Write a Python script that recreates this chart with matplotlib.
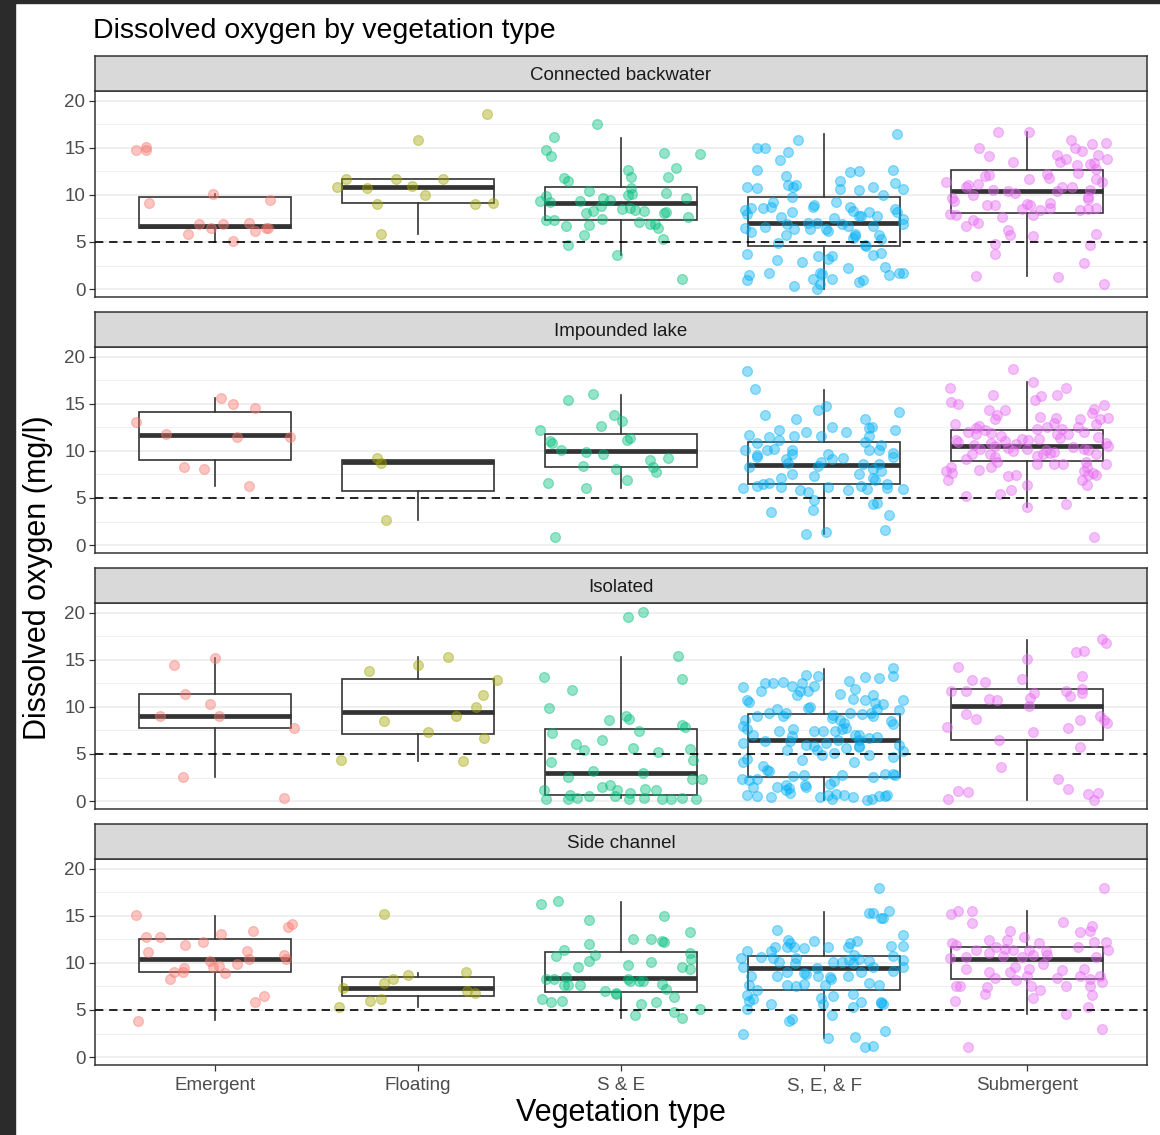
import numpy as np
import matplotlib.pyplot as plt
from matplotlib.patches import Rectangle

plt.rcParams['font.family'] = ['Liberation Sans', 'DejaVu Sans']

veg_types = ['Emergent', 'Floating', 'S & E', 'S, E, & F', 'Submergent']
habitats = ['Connected backwater', 'Impounded lake', 'Isolated', 'Side channel']
veg_colors = ['#F8766D', '#A3A500', '#00BF7D', '#00B0F6', '#E76BF3']
do_threshold = 5

# box stats per habitat, one value per vegetation type
cb_lo = [5.0, 5.8, 3.6, 0.05, 1.4]
cb_q1 = [6.5, 9.1, 7.3, 4.55, 8.1]
cb_med = [6.75, 10.8, 9.1, 7.05, 10.4]
cb_q3 = [9.8, 11.7, 10.85, 9.8, 12.65]
cb_hi = [10.07, 11.7, 16.1, 16.45, 16.7]

il_lo = [6.25, 2.7, 6.05, 1.2, 4.05]
il_q1 = [9.0, 5.75, 8.25, 6.45, 8.9]
il_med = [11.65, 8.8, 10.0, 8.55, 10.55]
il_q3 = [14.15, 9.0, 11.85, 10.95, 12.25]
il_hi = [15.65, 9.0, 16.0, 16.5, 17.3]

iso_lo = [2.6, 4.3, 0.3, 0.15, 0.1]
iso_q1 = [7.75, 7.1, 0.6, 2.6, 6.5]
iso_med = [9.05, 9.45, 3.0, 6.5, 10.15]
iso_q3 = [11.4, 13.0, 7.65, 9.25, 11.9]
iso_hi = [15.2, 15.3, 15.3, 14.05, 17.15]

sc_lo = [3.95, 5.35, 4.2, 2.05, 4.55]
sc_q1 = [9.05, 6.5, 6.95, 7.1, 8.3]
sc_med = [10.4, 7.35, 8.45, 9.5, 10.4]
sc_q3 = [12.6, 8.5, 11.2, 10.75, 11.65]
sc_hi = [15.05, 8.9, 16.5, 15.45, 15.5]

# jittered observations: (x offset from category, dissolved oxygen)
cb_em = [(-0.39, 14.75), (-0.34, 15.1), (-0.34, 14.75), (-0.325, 9.1), (-0.01, 10.07),
         (0.27, 9.5), (-0.08, 6.9), (-0.02, 6.5), (0.04, 6.9), (0.17, 7.05), (0.2, 6.2),
         (0.25, 6.5), (0.26, 6.5), (-0.13, 5.9), (0.09, 5.1)]
cb_fl = [(-0.4, 10.8), (-0.355, 11.7), (-0.25, 10.7), (-0.2, 9.0), (-0.18, 5.8),
         (-0.11, 11.7), (-0.03, 10.95), (0.0, 15.85), (0.035, 10.0), (0.125, 11.7),
         (0.28, 9.0), (0.37, 9.2), (0.34, 18.6)]
cb_se = [(-0.12, 17.6), (-0.33, 16.2), (-0.37, 14.75), (-0.345, 14.15), (-0.28, 11.8),
         (-0.26, 11.5), (-0.4, 9.35), (-0.37, 9.9), (-0.35, 9.25), (-0.37, 7.3),
         (-0.33, 7.3), (-0.27, 6.7), (-0.26, 4.7), (-0.18, 5.75), (-0.16, 6.8),
         (-0.2, 9.35), (-0.157, 10.4), (-0.17, 8.1), (-0.14, 8.3), (-0.095, 7.4),
         (-0.1, 8.8), (-0.087, 9.7), (-0.054, 9.5), (-0.018, 3.6), (0.006, 8.5),
         (0.036, 12.65), (0.05, 11.95), (0.048, 10.7), (0.033, 10.05), (0.056, 10.15),
         (0.044, 8.65), (0.069, 8.4), (0.113, 8.35), (0.09, 7.15), (0.143, 6.9),
         (0.167, 6.9), (0.18, 6.5), (0.205, 5.3), (0.21, 8.1), (0.22, 8.2), (0.22, 10.2),
         (0.23, 11.9), (0.27, 12.9), (0.21, 14.45), (0.39, 14.35), (0.32, 9.65),
         (0.33, 7.7), (0.30, 1.1)]
cb_sef = [(-0.33, 15.05), (-0.29, 14.95), (-0.127, 15.8), (-0.18, 14.6), (-0.217, 13.7),
          (-0.33, 12.65), (-0.19, 12.0), (-0.18, 11.05), (-0.154, 10.8), (-0.138, 11.05),
          (-0.16, 9.8), (-0.38, 10.85), (-0.33, 10.7), (-0.25, 9.25), (-0.26, 8.7),
          (-0.30, 8.65), (-0.36, 8.6), (-0.39, 8.4), (-0.38, 7.95), (-0.39, 6.5),
          (-0.36, 6.1), (-0.29, 6.6), (-0.21, 7.65), (-0.16, 8.2), (-0.185, 6.9),
          (-0.15, 6.35), (-0.19, 5.75), (-0.225, 4.9), (-0.05, 8.95), (-0.055, 8.7),
          (-0.08, 7.05), (-0.07, 6.4), (-0.036, 7.05), (0.01, 6.35), (0.02, 6.2),
          (0.05, 7.5), (0.06, 9.3), (0.08, 11.5), (0.08, 10.65), (0.13, 12.45),
          (0.17, 12.5), (0.17, 10.55), (0.13, 8.7), (0.14, 8.3), (0.09, 6.95),
          (0.12, 6.7), (0.15, 5.8), (0.14, 5.4), (0.17, 7.75), (0.18, 7.75),
          (0.22, 8.2), (0.26, 7.75), (0.24, 10.85), (0.29, 10.0), (0.24, 6.7),
          (0.27, 5.75), (0.28, 5.3), (0.2, 4.7), (0.24, 3.6), (0.28, 3.85),
          (0.30, 2.35), (0.32, 1.5), (0.17, 0.7), (0.19, 1.0), (0.35, 8.5),
          (0.36, 8.2), (0.35, 11.3), (0.34, 12.65), (0.36, 16.45), (0.37, 1.7),
          (-0.03, 3.5), (0.04, 3.5), (0.02, 3.15), (-0.11, 2.9), (-0.23, 3.05),
          (-0.38, 3.7), (-0.37, 1.45), (-0.38, 1.0), (-0.27, 1.7), (-0.15, 0.3),
          (-0.055, 1.1), (-0.02, 1.7), (-0.01, 1.55), (-0.035, 0.05), (-0.02, 0.55),
          (0.04, 1.1), (0.117, 2.25), (0.207, 4.55), (0.153, 5.6), (0.39, 10.6),
          (0.39, 7.4), (0.39, 6.95), (0.39, 1.7)]
cb_sub = [(-0.146, 16.65), (0.007, 16.75), (-0.235, 14.95), (-0.186, 14.1), (-0.07, 13.5),
          (0.215, 15.9), (0.236, 14.95), (0.27, 14.7), (0.32, 15.4), (0.39, 15.5),
          (0.35, 14.3), (0.395, 13.8), (0.146, 14.25), (0.16, 13.55), (0.19, 13.8),
          (0.245, 13.2), (0.31, 13.25), (0.33, 13.45), (0.34, 12.75), (0.25, 12.35),
          (0.097, 12.2), (0.105, 11.8), (0.01, 11.75), (-0.19, 12.15), (-0.21, 12.0),
          (-0.4, 11.4), (-0.29, 11.1), (-0.3, 10.8), (-0.24, 11.2), (-0.265, 10.0),
          (-0.17, 10.5), (-0.095, 10.4), (-0.06, 10.2), (-0.37, 9.65), (-0.36, 9.35),
          (-0.38, 8.0), (-0.35, 7.85), (-0.2, 8.95), (-0.16, 8.95), (-0.125, 7.65),
          (-0.265, 7.3), (-0.3, 6.7), (-0.24, 7.0), (-0.095, 6.25), (-0.087, 5.75),
          (-0.158, 4.8), (-0.158, 3.75), (-0.25, 1.4), (0.0, 9.0), (0.015, 8.95),
          (-0.026, 8.5), (0.03, 7.85), (0.064, 8.4), (0.11, 9.1), (0.11, 8.65),
          (0.03, 5.65), (0.146, 10.4), (0.17, 10.8), (0.22, 10.8), (0.31, 10.5),
          (0.30, 9.8), (0.30, 9.55), (0.26, 8.4), (0.30, 8.55), (0.34, 8.65),
          (0.37, 11.4), (0.34, 11.65), (0.34, 5.8), (0.31, 4.7), (0.28, 2.8),
          (0.15, 1.3), (0.38, 0.55)]

il_em = [(0.03, 15.65), (0.09, 15.0), (0.2, 14.6), (-0.39, 13.1), (-0.24, 11.85),
         (0.11, 11.5), (0.37, 11.5), (-0.15, 8.3), (-0.055, 8.05), (0.167, 6.25)]
il_fl = [(-0.2, 9.25), (-0.18, 8.75), (-0.155, 2.7)]
il_se = [(-0.14, 16.1), (-0.26, 15.4), (-0.035, 13.8), (0.006, 13.2), (-0.1, 12.65),
         (-0.4, 12.25), (-0.35, 11.05), (-0.34, 10.85), (-0.295, 10.1), (-0.17, 9.9),
         (-0.087, 9.7), (0.03, 11.2), (0.044, 11.4), (-0.186, 8.4), (-0.025, 8.1),
         (0.143, 9.0), (0.156, 8.35), (0.17, 7.75), (0.23, 9.25), (0.03, 6.95),
         (-0.36, 6.6), (-0.17, 6.1), (-0.325, 0.9)]
il_sef = [(-0.38, 18.5), (-0.34, 16.55), (-0.29, 13.8), (-0.14, 13.35), (-0.03, 14.4),
          (0.01, 14.75), (0.04, 12.6), (-0.09, 12.0), (-0.015, 11.55), (-0.22, 12.25),
          (-0.15, 11.55), (-0.27, 11.5), (-0.22, 11.2), (-0.37, 11.65), (-0.33, 10.85),
          (-0.39, 10.1), (-0.28, 10.15), (-0.245, 10.2), (-0.33, 9.55), (-0.33, 9.35),
          (-0.37, 8.35), (-0.16, 10.15), (-0.16, 9.65), (-0.19, 9.2), (-0.18, 8.7),
          (-0.16, 7.6), (-0.21, 7.15), (-0.21, 6.2), (-0.27, 6.6), (-0.3, 6.5),
          (-0.33, 6.25), (-0.4, 6.1), (-0.12, 5.8), (-0.08, 5.65), (-0.05, 4.8),
          (-0.055, 3.7), (-0.26, 3.5), (-0.09, 1.2), (0.01, 1.4), (-0.05, 7.3),
          (-0.03, 8.4), (-0.015, 8.85), (0.02, 9.65), (0.04, 9.2), (0.02, 6.2),
          (0.095, 9.25), (0.11, 12.0), (0.12, 5.85), (0.18, 6.25), (0.21, 6.0),
          (0.17, 7.6), (0.19, 8.6), (0.2, 13.45), (0.22, 12.45), (0.235, 12.6),
          (0.22, 11.55), (0.2, 10.95), (0.22, 10.15), (0.27, 10.1), (0.28, 10.6),
          (0.24, 8.1), (0.24, 7.15), (0.25, 6.95), (0.28, 7.9), (0.27, 8.6),
          (0.31, 6.45), (0.31, 6.1), (0.24, 4.4), (0.26, 4.45), (0.32, 3.15),
          (0.30, 1.55), (0.34, 9.8), (0.34, 9.35), (0.37, 14.1), (0.35, 12.2),
          (0.39, 6.0)]
il_sub = [(-0.07, 18.75), (0.03, 17.35), (-0.38, 16.65), (0.19, 16.75), (-0.17, 15.95),
          (0.07, 15.8), (0.04, 15.45), (0.146, 15.95), (-0.375, 15.2), (-0.34, 14.95),
          (-0.19, 14.4), (-0.11, 14.35), (-0.15, 13.8), (-0.16, 13.35), (0.38, 14.85),
          (0.33, 14.5), (0.32, 14.05), (0.36, 13.45), (0.40, 13.55), (0.26, 13.35),
          (0.064, 13.6), (0.14, 13.55), (0.13, 13.0), (-0.355, 12.85), (-0.235, 12.65),
          (-0.25, 12.45), (-0.21, 12.2), (-0.29, 12.0), (-0.25, 11.8), (-0.18, 11.9),
          (0.048, 12.35), (0.097, 12.55), (0.17, 12.35), (0.25, 12.6), (0.28, 12.0),
          (0.34, 12.9), (0.35, 11.5), (0.39, 10.8), (0.4, 10.5), (0.146, 11.85),
          (0.16, 11.4), (0.2, 11.8), (-0.35, 11.2), (-0.34, 10.95), (-0.13, 11.55),
          (-0.11, 11.1), (-0.026, 11.3), (0.006, 11.2), (0.06, 11.3), (-0.26, 10.6),
          (-0.23, 10.25), (-0.18, 10.8), (-0.158, 10.5), (-0.092, 10.35), (-0.054, 10.7),
          (-0.07, 10.0), (0.0, 10.25), (0.095, 10.1), (0.11, 9.8), (0.13, 9.9),
          (0.225, 10.45), (0.28, 10.25), (0.30, 10.1), (0.34, 9.7), (-0.3, 9.2),
          (-0.27, 9.65), (-0.185, 9.65), (-0.16, 9.35), (-0.15, 8.8), (0.05, 9.45),
          (0.05, 8.6), (0.08, 9.7), (0.13, 8.6), (0.176, 8.6), (0.29, 8.85),
          (0.295, 8.3), (0.39, 8.6), (-0.40, 7.85), (-0.375, 8.3), (-0.37, 7.65),
          (-0.39, 6.95), (-0.235, 7.95), (-0.18, 8.35), (-0.095, 7.3), (-0.054, 7.4),
          (0.28, 7.85), (0.27, 6.95), (0.30, 7.4), (0.325, 7.65), (0.34, 7.4),
          (0.295, 6.35), (0.0, 6.35), (-0.08, 5.8), (-0.135, 5.4), (-0.3, 5.2),
          (0.19, 4.4), (0.0, 4.05), (0.33, 0.85)]

iso_em = [(0.0, 15.2), (-0.2, 14.5), (-0.145, 11.4), (-0.025, 10.35), (-0.27, 9.0),
          (0.02, 9.05), (0.39, 7.75), (-0.155, 2.6), (0.34, 0.3)]
iso_fl = [(-0.24, 13.8), (0.0, 14.5), (0.146, 15.3), (0.39, 12.85), (0.32, 11.3),
          (0.285, 10.0), (0.19, 9.0), (-0.167, 8.5), (0.05, 7.35), (0.325, 6.7),
          (-0.38, 4.4), (0.22, 4.3)]
iso_se = [(0.036, 19.55), (0.107, 20.05), (0.28, 15.45), (0.3, 13.0), (-0.38, 13.2),
          (-0.24, 11.85), (-0.355, 9.9), (-0.058, 8.65), (0.025, 9.0), (0.04, 8.7),
          (0.3, 8.1), (0.315, 7.85), (-0.34, 7.2), (0.09, 7.45), (-0.095, 6.5),
          (-0.22, 6.05), (-0.18, 5.45), (0.06, 5.6), (0.18, 5.2), (0.34, 5.55),
          (0.355, 4.4), (-0.345, 4.15), (-0.136, 3.15), (0.11, 3.0), (-0.26, 2.6),
          (0.35, 2.35), (0.4, 2.35), (-0.054, 1.7), (-0.095, 1.45), (-0.02, 1.15),
          (0.12, 1.3), (0.17, 1.15), (-0.38, 1.15), (-0.37, 0.2), (-0.25, 0.65),
          (-0.215, 0.3), (-0.156, 0.5), (-0.03, 0.55), (0.044, 0.85), (0.04, 0.2),
          (0.115, 0.3), (0.2, 0.2), (0.245, 0.2), (0.3, 0.3), (0.37, 0.2), (-0.26, 0.2)]
iso_sef = [(-0.09, 13.45), (-0.03, 13.25), (0.34, 14.15), (0.34, 13.25), (0.2, 13.2),
           (0.27, 13.1), (0.125, 12.75), (-0.2, 12.65), (-0.25, 12.5), (-0.29, 12.55),
           (-0.16, 12.25), (-0.11, 12.5), (-0.05, 12.25), (-0.4, 12.1), (-0.31, 11.75),
           (-0.12, 11.65), (-0.08, 11.75), (-0.135, 11.3), (0.15, 11.9), (0.08, 11.4),
           (0.24, 11.3), (0.14, 10.9), (0.2, 10.75), (0.25, 10.4), (0.29, 10.3),
           (-0.38, 10.75), (-0.37, 10.5), (-0.08, 9.9), (-0.07, 10.05), (-0.23, 9.8),
           (-0.27, 9.35), (-0.33, 9.0), (-0.39, 8.65), (-0.4, 7.95), (-0.2, 9.0),
           (-0.19, 9.35), (0.04, 8.85), (0.13, 9.35), (0.045, 9.2), (0.08, 8.6),
           (0.1, 8.3), (0.185, 9.3), (0.23, 9.35), (0.26, 9.8), (0.33, 8.5),
           (0.34, 8.2), (0.24, 9.0), (-0.38, 7.65), (-0.35, 7.05), (-0.22, 7.4),
           (-0.155, 7.65), (-0.16, 6.95), (-0.05, 7.45), (-0.006, 7.4), (0.054, 7.4),
           (0.087, 7.65), (0.11, 7.75), (0.15, 7.05), (0.17, 7.05), (0.22, 6.7),
           (0.17, 6.5), (-0.4, 6.15), (-0.29, 6.35), (-0.17, 6.35), (-0.185, 5.45),
           (-0.09, 6.0), (-0.05, 5.8), (-0.036, 5.4), (-0.01, 4.9), (0.01, 6.15),
           (0.05, 5.15), (0.07, 6.5), (0.11, 5.65), (0.17, 5.9), (0.17, 5.7),
           (0.22, 4.9), (0.26, 6.8), (-0.4, 4.2), (-0.38, 4.45), (-0.3, 3.7),
           (-0.28, 3.35), (-0.27, 3.15), (-0.11, 4.4), (0.145, 4.2), (0.087, 2.8),
           (-0.1, 2.8), (-0.155, 2.7), (0.24, 2.6), (0.3, 2.9), (0.34, 2.9),
           (-0.405, 2.35), (-0.37, 2.25), (-0.33, 2.3), (-0.19, 1.7), (-0.175, 1.35),
           (-0.23, 1.45), (-0.094, 1.7), (-0.09, 1.5), (-0.35, 1.5), (0.03, 1.8),
           (0.05, 2.1), (-0.17, 0.85), (-0.19, 1.15), (-0.38, 0.65), (-0.33, 0.55),
           (-0.26, 0.4), (-0.02, 0.4), (0.02, 0.65), (0.04, 0.2), (0.06, 0.75),
           (0.1, 0.65), (0.14, 0.4), (0.21, 0.15), (0.235, 0.2), (0.27, 0.55),
           (0.31, 0.65), (0.39, 10.7), (0.37, 9.65), (0.37, 6.0), (0.39, 5.3),
           (0.34, 4.7), (0.35, 2.8), (0.3, 0.55)]
iso_sub = [(0.37, 17.2), (0.39, 16.8), (0.24, 15.8), (0.28, 16.0), (0.0, 15.1),
           (-0.34, 14.2), (0.27, 13.3), (-0.27, 12.85), (-0.21, 12.7), (-0.026, 12.95),
           (-0.375, 11.65), (-0.3, 11.75), (0.19, 11.75), (0.21, 11.2), (0.27, 11.9),
           (0.27, 11.5), (0.035, 11.45), (0.015, 11.0), (-0.19, 10.85), (-0.15, 10.7),
           (0.007, 10.15), (-0.3, 9.3), (-0.25, 8.75), (0.26, 8.6), (0.36, 9.0),
           (0.38, 8.65), (0.395, 8.35), (-0.395, 7.85), (0.2, 7.8), (0.03, 7.3),
           (-0.14, 6.5), (0.26, 5.75), (-0.13, 3.6), (0.15, 2.35), (0.2, 1.3),
           (-0.39, 0.25), (-0.34, 1.1), (-0.29, 0.95), (0.3, 0.75), (0.35, 0.9),
           (0.33, 0.1)]

sc_em = [(-0.39, 15.1), (-0.34, 12.8), (-0.27, 12.8), (-0.33, 11.15), (-0.145, 11.9),
         (-0.058, 12.2), (0.03, 13.05), (0.19, 13.35), (0.36, 13.8), (0.38, 14.1),
         (0.16, 11.3), (0.17, 10.4), (0.34, 10.85), (0.35, 10.4), (-0.025, 10.25),
         (-0.008, 9.55), (0.02, 9.7), (0.11, 9.85), (0.05, 8.9), (-0.15, 9.45),
         (-0.155, 9.05), (-0.2, 9.0), (-0.22, 8.3), (0.24, 6.5), (0.2, 5.8),
         (-0.38, 3.85)]
sc_fl = [(-0.167, 15.2), (-0.05, 8.7), (-0.125, 8.3), (-0.167, 7.9), (-0.37, 7.35),
         (0.235, 9.0), (0.24, 7.0), (0.28, 6.85), (-0.235, 5.95), (-0.18, 6.15),
         (-0.39, 5.35)]
sc_se = [(-0.395, 16.25), (-0.31, 16.6), (-0.157, 14.55), (0.21, 15.0), (0.34, 13.3),
         (0.06, 12.55), (0.15, 12.6), (0.2, 12.35), (0.21, 12.25), (-0.16, 12.0),
         (-0.28, 11.4), (-0.32, 10.75), (-0.128, 10.9), (-0.156, 10.2), (-0.21, 9.6),
         (0.033, 9.75), (0.15, 10.1), (0.34, 11.05), (0.345, 10.4), (0.3, 9.55),
         (0.34, 9.35), (-0.37, 8.3), (-0.33, 8.3), (-0.27, 8.55), (-0.28, 7.65),
         (-0.26, 7.65), (-0.2, 7.65), (0.036, 8.3), (0.044, 8.1), (0.09, 8.1),
         (0.11, 8.1), (0.2, 7.75), (0.22, 7.2), (-0.08, 7.0), (-0.025, 6.85),
         (-0.025, 6.65), (0.26, 6.4), (-0.39, 6.15), (-0.345, 5.9), (-0.29, 6.0),
         (0.1, 5.65), (0.17, 5.9), (0.39, 5.1), (0.26, 4.75), (0.3, 4.2), (0.07, 4.45)]
sc_sef = [(0.27, 18.0), (0.22, 15.3), (0.24, 15.3), (0.28, 14.8), (0.32, 15.5),
          (-0.23, 13.5), (-0.18, 12.45), (-0.05, 12.35), (-0.17, 12.15), (-0.24, 11.65),
          (-0.185, 11.65), (-0.15, 11.65), (-0.1, 11.55), (0.02, 11.7), (0.16, 12.35),
          (0.13, 12.1), (0.12, 11.65), (0.33, 11.8), (-0.38, 11.3), (-0.26, 11.3),
          (-0.31, 10.65), (-0.41, 10.5), (-0.25, 10.5), (-0.22, 10.15), (-0.14, 10.5),
          (-0.145, 10.05), (0.046, 10.15), (0.09, 10.15), (0.125, 10.3), (0.145, 10.85),
          (0.17, 10.4), (0.22, 10.25), (0.34, 10.75), (0.14, 9.95), (-0.4, 9.55),
          (-0.36, 8.6), (-0.23, 8.6), (-0.185, 9.05), (-0.1, 8.95), (-0.09, 8.85),
          (-0.033, 9.45), (-0.03, 8.6), (0.03, 8.55), (0.033, 8.3), (0.12, 8.6),
          (0.18, 9.0), (0.24, 9.6), (0.34, 9.15), (-0.37, 7.65), (-0.33, 7.1),
          (-0.185, 7.65), (-0.14, 7.55), (-0.1, 7.75), (0.005, 7.65), (0.22, 7.9),
          (0.27, 7.65), (-0.38, 6.6), (-0.37, 6.0), (-0.35, 6.15), (-0.38, 5.1),
          (-0.26, 5.6), (-0.015, 6.25), (-0.006, 5.65), (0.046, 6.5), (0.14, 6.7),
          (0.18, 5.8), (0.14, 5.35), (0.28, 5.9), (0.28, 5.7), (0.04, 4.45),
          (-0.175, 3.85), (-0.16, 4.0), (-0.4, 2.45), (0.02, 2.05), (0.15, 2.1),
          (0.3, 2.8), (0.2, 1.1), (0.24, 1.15), (0.29, 14.75), (0.39, 13.0),
          (0.39, 11.85), (0.39, 10.3), (0.39, 9.55), (0.29, 5.65)]
sc_sub = [(0.38, 17.95), (-0.375, 15.2), (-0.34, 15.5), (-0.27, 15.55), (-0.27, 14.3),
          (0.175, 14.4), (0.32, 13.95), (0.31, 13.45), (0.26, 13.25), (-0.087, 13.35),
          (-0.018, 12.8), (-0.1, 12.4), (-0.19, 12.45), (0.06, 12.1), (0.33, 12.25),
          (0.39, 12.25), (-0.37, 12.1), (-0.35, 11.9), (0.25, 11.65), (-0.154, 11.65),
          (-0.11, 11.45), (-0.07, 11.4), (0.007, 11.4), (0.094, 11.3), (0.097, 10.85),
          (-0.25, 11.4), (-0.19, 11.1), (-0.3, 10.65), (-0.38, 10.5), (-0.12, 10.75),
          (-0.026, 10.65), (0.03, 10.85), (0.34, 10.65), (0.4, 11.4), (0.08, 9.9),
          (0.17, 9.25), (0.28, 9.35), (-0.3, 9.35), (-0.19, 9.0), (-0.16, 8.45),
          (-0.087, 9.05), (-0.06, 9.55), (-0.054, 8.2), (0.007, 9.35), (0.0, 8.6),
          (0.146, 8.45), (0.26, 8.6), (0.31, 8.3), (0.36, 8.65), (0.37, 8.0),
          (0.31, 7.5), (0.32, 6.6), (0.19, 7.55), (-0.35, 7.5), (-0.33, 7.55),
          (-0.2, 7.4), (-0.21, 6.65), (0.02, 7.55), (0.064, 7.1), (0.03, 6.3),
          (-0.355, 5.95), (0.3, 5.35), (0.19, 4.55), (0.37, 2.95), (-0.29, 1.1)]

panel_points = [[cb_em, cb_fl, cb_se, cb_sef, cb_sub],
                [il_em, il_fl, il_se, il_sef, il_sub],
                [iso_em, iso_fl, iso_se, iso_sef, iso_sub],
                [sc_em, sc_fl, sc_se, sc_sef, sc_sub]]
panel_boxes = [(cb_lo, cb_q1, cb_med, cb_q3, cb_hi),
               (il_lo, il_q1, il_med, il_q3, il_hi),
               (iso_lo, iso_q1, iso_med, iso_q3, iso_hi),
               (sc_lo, sc_q1, sc_med, sc_q3, sc_hi)]

W, H = 1160, 1135
fig = plt.figure(figsize=(W / 100, H / 100), dpi=100)

def fx(px):
    return px / W

def fy(py):
    return 1 - py / H

# screenshot frame on the left and top
fig.patches.append(Rectangle((0, 0), 15 / W, 1, transform=fig.transFigure, color='#2b2b2b', zorder=0))
fig.patches.append(Rectangle((0, 1 - 3 / H), 1, 3 / H, transform=fig.transFigure, color='#2b2b2b', zorder=0))

left, right = 95, 1147
plot_tops = [91, 347, 603, 859]
plot_h = 206
strip_h = 35
positions = np.arange(1, 6)

for i, hab in enumerate(habitats):
    top = plot_tops[i]
    ax = fig.add_axes([fx(left), fy(top + plot_h), fx(right) - fx(left), plot_h / H])

    # grid
    for v in [0, 5, 10, 15, 20]:
        ax.axhline(v, color='#EBEBEB', lw=1.1, zorder=0)
    for v in [2.5, 7.5, 12.5, 17.5]:
        ax.axhline(v, color='#EBEBEB', lw=0.55, zorder=0)

    lo, q1, med, q3, hi = panel_boxes[i]
    stats = [dict(whislo=lo[k], q1=q1[k], med=med[k], q3=q3[k], whishi=hi[k], fliers=[])
             for k in range(5)]
    ax.bxp(stats, positions=positions, widths=0.75, showfliers=False, showcaps=False,
           patch_artist=True,
           boxprops=dict(facecolor='none', edgecolor='#333333', linewidth=1.2),
           medianprops=dict(color='#333333', linewidth=3.4, solid_capstyle='butt'),
           whiskerprops=dict(color='#333333', linewidth=1.2),
           zorder=2)

    ax.axhline(do_threshold, color='black', lw=1.2, linestyle=(0, (5, 3.5)), zorder=4)

    for k, pts in enumerate(panel_points[i]):
        pts = np.array(pts)
        ax.scatter(positions[k] + pts[:, 0], pts[:, 1], s=50, color=veg_colors[k],
                   edgecolors=veg_colors[k], alpha=0.42, linewidths=0.9, zorder=3)

    ax.set_xlim(0.41, 5.59)
    ax.set_ylim(-0.85, 21.06)
    ax.set_yticks([0, 5, 10, 15, 20])
    ax.tick_params(axis='y', length=4, width=0.9, color='#333333', labelsize=13.5,
                   labelcolor='#4D4D4D', pad=3)
    if i == 3:
        ax.set_xticks(positions)
        ax.set_xticklabels(veg_types)
        ax.tick_params(axis='x', length=4, width=0.9, color='#333333', labelsize=13.5,
                       labelcolor='#4D4D4D', pad=5)
    else:
        ax.set_xticks([])
    for sp in ax.spines.values():
        sp.set_color('#333333')
        sp.set_linewidth(1.1)

    # facet strip
    sax = fig.add_axes([fx(left), fy(top), fx(right) - fx(left), strip_h / H])
    sax.set_facecolor('#D9D9D9')
    sax.set_xticks([])
    sax.set_yticks([])
    for sp in sax.spines.values():
        sp.set_color('#333333')
        sp.set_linewidth(1.1)
    sax.text(0.5, 0.44, hab, ha='center', va='center', fontsize=13.5, color='#1A1A1A',
             transform=sax.transAxes)

fig.text(fx(93), fy(28), 'Dissolved oxygen by vegetation type', fontsize=20.5,
         ha='left', va='center_baseline', color='black')
fig.text(fx(38), fy(578), 'Dissolved oxygen (mg/l)', fontsize=22, rotation=90,
         ha='center', va='center', color='black')
fig.text(fx(621), fy(1113), 'Vegetation type', fontsize=22, ha='center', va='center',
         color='black')

fig.savefig('out.png', dpi=100)
